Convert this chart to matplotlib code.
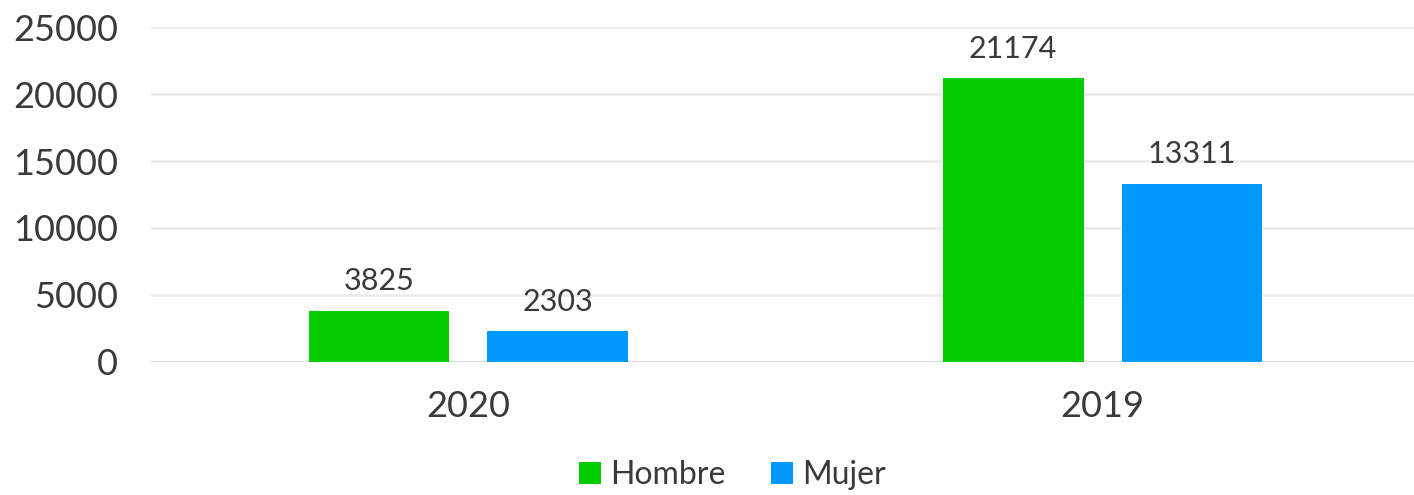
import matplotlib
matplotlib.use("Agg")
import matplotlib.pyplot as plt
import numpy as np

# data
years = ["2020", "2019"]
hombre = [3825, 21174]
mujer = [2303, 13311]
series_names = ["Hombre", "Mujer"]
colors = ["#00CC00", "#0099FF"]

plt.rcParams['font.family'] = ['Lato', 'DejaVu Sans']
text_color = "#3a3a3a"

fig = plt.figure(figsize=(14.14, 4.95), dpi=100)
ax = fig.add_axes([0.107, 0.269, 0.897, 0.676])

x = np.arange(len(years))
width = 0.222
offset = 0.141

bars_h = ax.bar(x - offset, hombre, width, color=colors[0], label=series_names[0], zorder=3)
bars_m = ax.bar(x + offset, mujer, width, color=colors[1], label=series_names[1], zorder=3)

for bars in (bars_h, bars_m):
    for b in bars:
        ax.annotate(f"{int(b.get_height())}",
                    (b.get_x() + b.get_width() / 2, b.get_height()),
                    xytext=(0, 11), textcoords="offset points",
                    ha="center", va="bottom", fontsize=22,
                    color=text_color)

ax.set_xlim(-0.5, 1.5)
ax.set_ylim(0, 25000)
ax.set_yticks(np.arange(0, 25001, 5000))
ax.set_xticks(x)
ax.set_xticklabels(years)

ax.grid(axis="y", color="#ebebeb", linewidth=1.8, zorder=0)
ax.axhline(0, color="#d9d9d9", linewidth=1.8, zorder=2)
for s in ax.spines.values():
    s.set_visible(False)
ax.tick_params(axis="both", length=0, labelsize=26, labelcolor=text_color)
ax.tick_params(axis="y", pad=24)
ax.tick_params(axis="x", pad=20)

leg = fig.legend(loc="center", bbox_to_anchor=(0.518, 0.04), ncol=2, frameon=False,
                 fontsize=23, handlelength=0.7, handleheight=0.7,
                 handletextpad=0.3, columnspacing=1.4)
for t in leg.get_texts():
    t.set_color(text_color)

fig.savefig("out.png", dpi=100)
